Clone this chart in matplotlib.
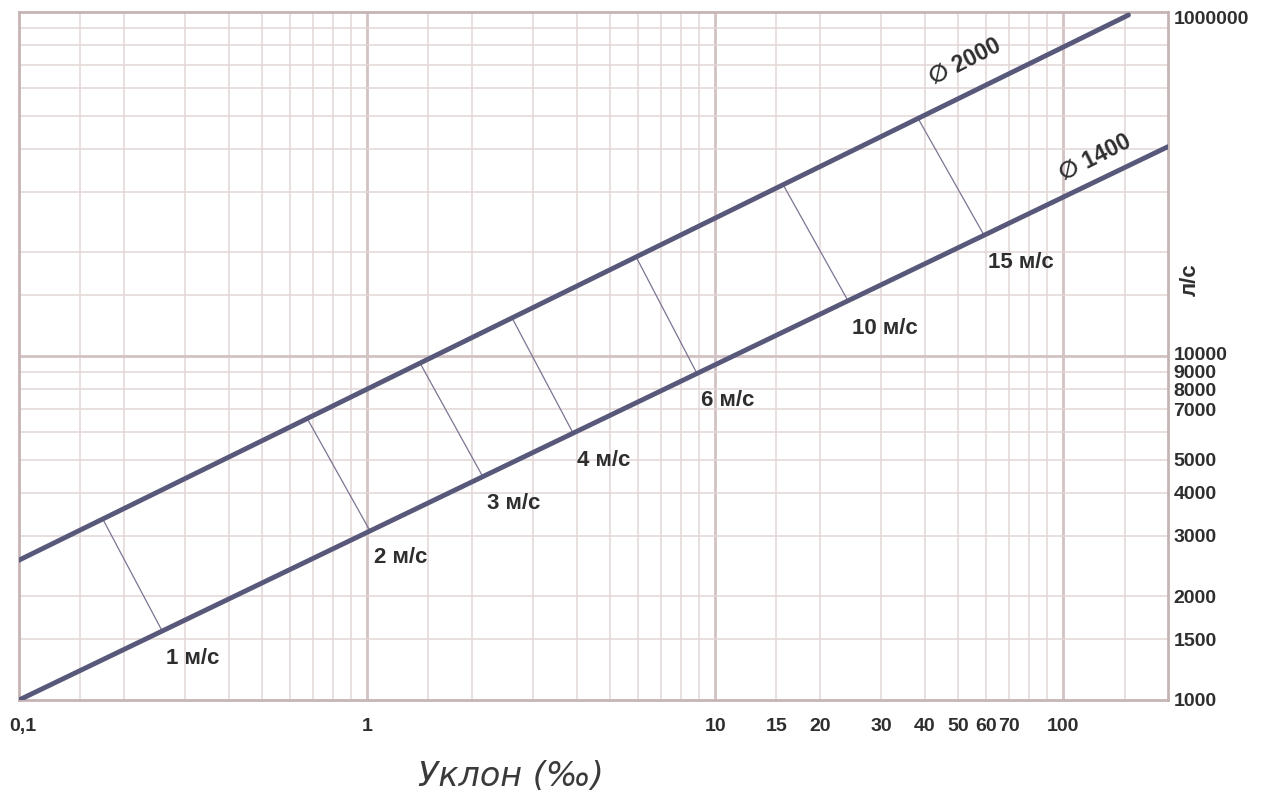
import matplotlib
matplotlib.use('Agg')
import matplotlib.pyplot as plt
import matplotlib.transforms as mtransforms

# main pipe lines: slope (promille) vs flow (l/s)
d2000_slope = [0.1, 154]
d2000_flow = [2550, 98000]
d1400_slope = [0.1, 200]
d1400_flow = [1000, 40600]

# equal velocity connectors
vel_labels = ['1 м/с', '2 м/с', '3 м/с', '4 м/с', '6 м/с', '10 м/с', '15 м/с']
vel_top_slope = [0.174, 0.673, 1.42, 2.61, 5.93, 15.7, 38.3]
vel_top_flow = [3360, 6580, 9530, 12900, 19400, 31400, 49000]
vel_bot_slope = [0.258, 1.02, 2.15, 3.91, 8.87, 24.1, 59.3]
vel_bot_flow = [1585, 3100, 4460, 5960, 8890, 14450, 22400]

x_ticks = [0.1, 1, 10, 15, 20, 30, 40, 50, 60, 70, 100]
x_tick_labels = ['0,1', '1', '10', '15', '20', '30', '40', '50', '60', '70', '100']
y_ticks = [1000, 1500, 2000, 3000, 4000, 5000, 7000, 8000, 9000, 10000, 100000]
y_tick_labels = ['1000', '1500', '2000', '3000', '4000', '5000', '7000', '8000',
                 '9000', '10000', '1000000']

line_col = '#58587a'
txt_col = '#2e2e2e'
font = ['Liberation Sans', 'DejaVu Sans']

fig = plt.figure(figsize=(12.68, 7.98), dpi=100)
ax = fig.add_axes([19/1268, 1-700/798, (1168-19)/1268, (700-12)/798])
ax.set_xscale('log')
ax.set_yscale('log')
ax.set_xlim(0.1, 200)
ax.set_ylim(1000, 100000)

# grid
subs = [1.5, 2, 3, 4, 5, 6, 7, 8, 9]
for dec in [0.1, 1, 10, 100]:
    if dec > 0.1:
        ax.axvline(dec, color='#d2c2c2', lw=2.0, zorder=1)
    for s in subs:
        if dec*s < 200:
            ax.axvline(dec*s, color='#e2d6d6', lw=1.1, zorder=1)
for dec in [1000, 10000]:
    if dec > 1000:
        ax.axhline(dec, color='#d2c2c2', lw=2.0, zorder=1)
    for s in subs:
        ax.axhline(dec*s, color='#e2d6d6', lw=1.1, zorder=1)

for sp in ax.spines.values():
    sp.set_color('#c6b4b4')
    sp.set_linewidth(2)

ax.plot(d2000_slope, d2000_flow, color=line_col, lw=3.5, solid_capstyle='round', zorder=4)
ax.plot(d1400_slope, d1400_flow, color=line_col, lw=3.5, solid_capstyle='round', zorder=4)

for i in range(len(vel_labels)):
    ax.plot([vel_top_slope[i], vel_bot_slope[i]], [vel_top_flow[i], vel_bot_flow[i]],
            color='#7c7494', lw=0.9, zorder=3)
    ax.annotate(vel_labels[i], (vel_bot_slope[i], vel_bot_flow[i]),
                xytext=(4, -27), textcoords='offset pixels', ha='left', va='center',
                fontsize=16, fontweight='bold', color=txt_col, family=font, zorder=5)

ax.text(52.3, 71600, '∅ 2000', rotation=27, ha='center', va='center', fontsize=16.5,
        fontweight='bold', color=txt_col, family=font, rotation_mode='anchor')
ax.text(123.6, 37700, '∅ 1400', rotation=27, ha='center', va='center', fontsize=16.5,
        fontweight='bold', color=txt_col, family=font, rotation_mode='anchor')

ax.xaxis.set_minor_locator(matplotlib.ticker.NullLocator())
ax.yaxis.set_minor_locator(matplotlib.ticker.NullLocator())
ax.set_xticks(x_ticks)
ax.set_xticklabels(x_tick_labels)
ax.yaxis.tick_right()
ax.set_yticks(y_ticks)
ax.set_yticklabels(y_tick_labels)
ax.tick_params(axis='x', length=0, pad=13, labelsize=14, labelcolor=txt_col)
ax.tick_params(axis='y', length=0, pad=4, labelsize=14, labelcolor=txt_col)
for lab in ax.get_xticklabels() + ax.get_yticklabels():
    lab.set_fontweight('bold')
    lab.set_family(font)

# nudge the tightly packed labels apart a little
ylabs = ax.get_yticklabels()
ylabs[9].set_transform(ylabs[9].get_transform() +
                       mtransforms.ScaledTranslation(0, 3/100, fig.dpi_scale_trans))
ylabs[10].set_transform(ylabs[10].get_transform() +
                        mtransforms.ScaledTranslation(0, -5/100, fig.dpi_scale_trans))
xlabs = ax.get_xticklabels()
xlabs[0].set_transform(xlabs[0].get_transform() +
                       mtransforms.ScaledTranslation(4/100, 0, fig.dpi_scale_trans))

fig.text(1190/1268, 1-280/798, 'л/с', rotation=90, ha='center', va='center',
         fontsize=16, fontweight='bold', color=txt_col, family=font)
fig.text(511/1268, 1-776/798, 'Уклон (‰)', ha='center', va='center', fontsize=24,
         style='italic', color='#3a3a3a', family=['DejaVu Sans'])

fig.savefig('out.png', dpi=100, facecolor='white')
